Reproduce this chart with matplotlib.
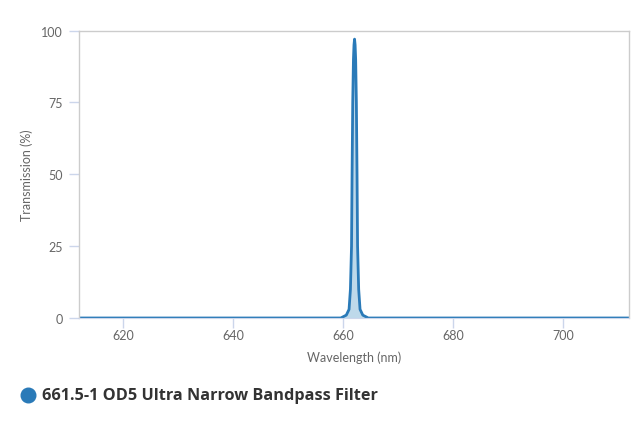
import matplotlib
matplotlib.use("Agg")
import matplotlib.pyplot as plt
from matplotlib.lines import Line2D

# transmission curve
wavelength = [612.0, 659.6, 660.6, 661.1, 661.35, 661.55, 661.65, 661.77, 661.9, 662.0,
              662.1, 662.2, 662.3, 662.43, 662.55, 662.65, 662.85, 663.1, 663.6, 664.6, 712.0]
transmission = [0, 0, 1, 3, 10, 25, 50, 75, 90, 95,
                97, 95, 90, 75, 50, 25, 10, 3, 1, 0, 0]

x_ticks = [620, 640, 660, 680, 700]
y_ticks = [0, 25, 50, 75, 100]
series_name = "661.5-1 OD5 Ultra Narrow Bandpass Filter"

line_color = "#2a7ab8"
fill_color = "#a9cde3"
tick_color = "#ccd6eb"
text_color = "#666666"

plt.rcParams['font.family'] = ['Lato', 'DejaVu Sans']

fig = plt.figure(figsize=(6.4, 4.27), dpi=100)
ax = fig.add_axes([79 / 640, 1 - 319 / 427, 550 / 640, 287.5 / 427])

ax.fill_between(wavelength, transmission, 0, color=fill_color, alpha=0.75, lw=0)
ax.plot(wavelength, transmission, color=line_color, lw=2, solid_joinstyle='round')

ax.set_xlim(612, 712)
ax.set_ylim(0, 100)
ax.set_xticks(x_ticks)
ax.set_yticks(y_ticks)

for side in ['left', 'top', 'right']:
    ax.spines[side].set_color("#cccccc")
    ax.spines[side].set_linewidth(1)
ax.spines['bottom'].set_color(tick_color)

ax.tick_params(axis='x', length=7.2, width=1, color=tick_color, labelcolor=text_color,
               labelsize=9, pad=0.5)
ax.tick_params(axis='y', length=7.2, width=1, color=tick_color, labelcolor=text_color,
               labelsize=9, pad=4.5)

ax.set_xlabel("Wavelength (nm)", color=text_color, fontsize=9, labelpad=7)
ax.set_ylabel("Transmission (%)", color=text_color, fontsize=9, labelpad=6)

# legend at the bottom
fig.add_artist(Line2D([28 / 640], [1 - 396 / 427], marker='o', markersize=10.5,
                      color=line_color, transform=fig.transFigure))
fig.text(42 / 640, 1 - 396 / 427, series_name, fontsize=11.7, fontweight='bold',
         family=['Open Sans', 'DejaVu Sans'], color="#333333", va='center', ha='left')

fig.savefig("out.png", dpi=100)
